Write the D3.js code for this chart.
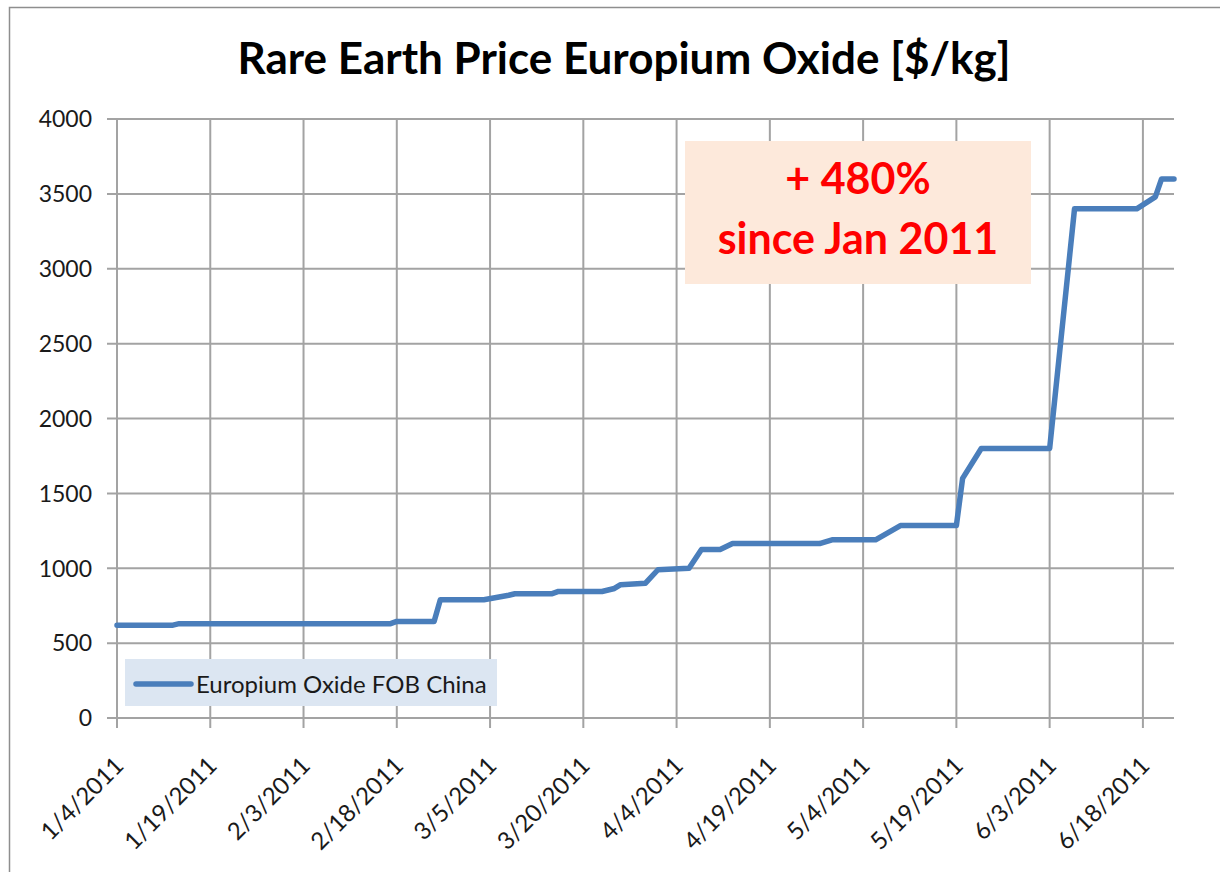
<!DOCTYPE html>
<html>
<head>
<meta charset="utf-8">
<script src="https://cdn.jsdelivr.net/npm/d3@7"></script>
<style>
  body { margin: 0; background: #fff; }
  svg text { font-family: Lato, "Open Sans", sans-serif; }
</style>
</head>
<body>
<svg id="chart" width="1220" height="872"></svg>
<script>
var chartTitle = "Rare Earth Price Europium Oxide [$/kg]";
var seriesName = "Europium Oxide FOB China";
var noteLines = ["+ 480%", "since Jan 2011"];

// price points ($/kg)
var dates = ["1/4/2011", "1/13/2011", "1/14/2011", "2/17/2011", "2/18/2011", "2/24/2011",
  "2/25/2011", "3/4/2011", "3/6/2011", "3/8/2011", "3/9/2011", "3/15/2011", "3/16/2011",
  "3/23/2011", "3/25/2011", "3/26/2011", "3/30/2011", "4/1/2011", "4/6/2011", "4/8/2011",
  "4/11/2011", "4/13/2011", "4/27/2011", "4/29/2011", "5/6/2011", "5/10/2011", "5/19/2011",
  "5/20/2011", "5/23/2011", "6/3/2011", "6/7/2011", "6/17/2011", "6/20/2011", "6/21/2011",
  "6/23/2011"];
var prices = [620, 620, 630, 630, 645, 645,
  790, 790, 805, 820, 830, 830, 845,
  845, 865, 890, 900, 990, 1000, 1125,
  1125, 1165, 1165, 1190, 1190, 1285, 1285,
  1600, 1800, 1800, 3400, 3400, 3480, 3600,
  3600];

var xTickLabels = ["1/4/2011", "1/19/2011", "2/3/2011", "2/18/2011", "3/5/2011", "3/20/2011",
  "4/4/2011", "4/19/2011", "5/4/2011", "5/19/2011", "6/3/2011", "6/18/2011"];
var yTicks = [0, 500, 1000, 1500, 2000, 2500, 3000, 3500, 4000];
var xDomain = ["1/4/2011", "6/23/2011"];

var parse = d3.utcParse("%m/%d/%Y");
var data = dates.map(function(d, i) { return {date: parse(d), value: prices[i]}; });

var plotLeft = 117, plotRight = 1174, plotTop = 119, plotBottom = 718;
var gridColor = "#a3a3a3", lineColor = "#4a7ebb";

var svg = d3.select("#chart");

// outer chart frame
svg.append("rect")
  .attr("x", 9.5).attr("y", 7.5)
  .attr("width", 1240).attr("height", 900)
  .attr("fill", "#fff")
  .attr("stroke", "#8e8e8e")
  .attr("stroke-width", 1.5);

var x = d3.scaleUtc()
  .domain(xDomain.map(parse))
  .range([plotLeft, plotRight]);

var y = d3.scaleLinear()
  .domain([0, 4000])
  .range([plotBottom, plotTop]);

// horizontal gridlines + y ticks
svg.selectAll("line.hgrid")
  .data(yTicks).enter()
  .append("line")
  .classed("hgrid", true)
  .attr("x1", plotLeft - 10).attr("x2", plotRight)
  .attr("y1", function(d) { return y(d); })
  .attr("y2", function(d) { return y(d); })
  .attr("stroke", gridColor)
  .attr("stroke-width", 2);

// vertical gridlines + x ticks
svg.selectAll("line.vgrid")
  .data(xTickLabels).enter()
  .append("line")
  .classed("vgrid", true)
  .attr("x1", function(d) { return x(parse(d)); })
  .attr("x2", function(d) { return x(parse(d)); })
  .attr("y1", plotTop)
  .attr("y2", plotBottom + 10)
  .attr("stroke", gridColor)
  .attr("stroke-width", 2);

svg.selectAll("text.ylabel")
  .data(yTicks).enter()
  .append("text")
  .classed("ylabel", true)
  .attr("x", 92)
  .attr("y", function(d) { return y(d); })
  .attr("dy", "0.36em")
  .attr("text-anchor", "end")
  .attr("font-size", 23)
  .attr("fill", "#1a1a1a")
  .text(function(d) { return d; });

svg.selectAll("text.xlabel")
  .data(xTickLabels).enter()
  .append("text")
  .classed("xlabel", true)
  .attr("transform", function(d) {
    return "translate(" + (x(parse(d)) + 2) + "," + (plotBottom + 43) + ") rotate(-45)";
  })
  .attr("dy", "0.36em")
  .attr("text-anchor", "end")
  .attr("font-size", 24)
  .attr("fill", "#1a1a1a")
  .text(function(d) { return d; });

// price line
var line = d3.line()
  .x(function(d) { return x(d.date); })
  .y(function(d) { return y(d.value); });

svg.append("path")
  .datum(data)
  .attr("d", line)
  .attr("fill", "none")
  .attr("stroke", lineColor)
  .attr("stroke-width", 5.5)
  .attr("stroke-linejoin", "round")
  .attr("stroke-linecap", "round");

// legend
var legend = svg.append("g").attr("transform", "translate(125,659)");
legend.append("rect")
  .attr("width", 372).attr("height", 47)
  .attr("fill", "#dce6f2");
legend.append("line")
  .attr("x1", 11).attr("x2", 66)
  .attr("y1", 25).attr("y2", 25)
  .attr("stroke", lineColor)
  .attr("stroke-width", 5.5)
  .attr("stroke-linecap", "round");
legend.append("text")
  .attr("x", 71).attr("y", 25)
  .attr("dy", "0.36em")
  .attr("font-size", 24)
  .attr("fill", "#1a1a1a")
  .text(seriesName);

// annotation box
var note = svg.append("g").attr("transform", "translate(685,141)");
note.append("rect")
  .attr("width", 346).attr("height", 143)
  .attr("fill", "#fde9db");
note.selectAll("text")
  .data(noteLines).enter()
  .append("text")
  .attr("x", 173)
  .attr("y", function(d, i) { return 53 + i * 60; })
  .attr("text-anchor", "middle")
  .attr("font-size", 43)
  .attr("font-weight", "bold")
  .attr("fill", "#ff0000")
  .text(function(d) { return d; });

// title
svg.append("text")
  .attr("x", 624).attr("y", 74)
  .attr("text-anchor", "middle")
  .attr("font-size", 44)
  .attr("font-weight", "bold")
  .attr("fill", "#000")
  .text(chartTitle);
</script>
</body>
</html>
